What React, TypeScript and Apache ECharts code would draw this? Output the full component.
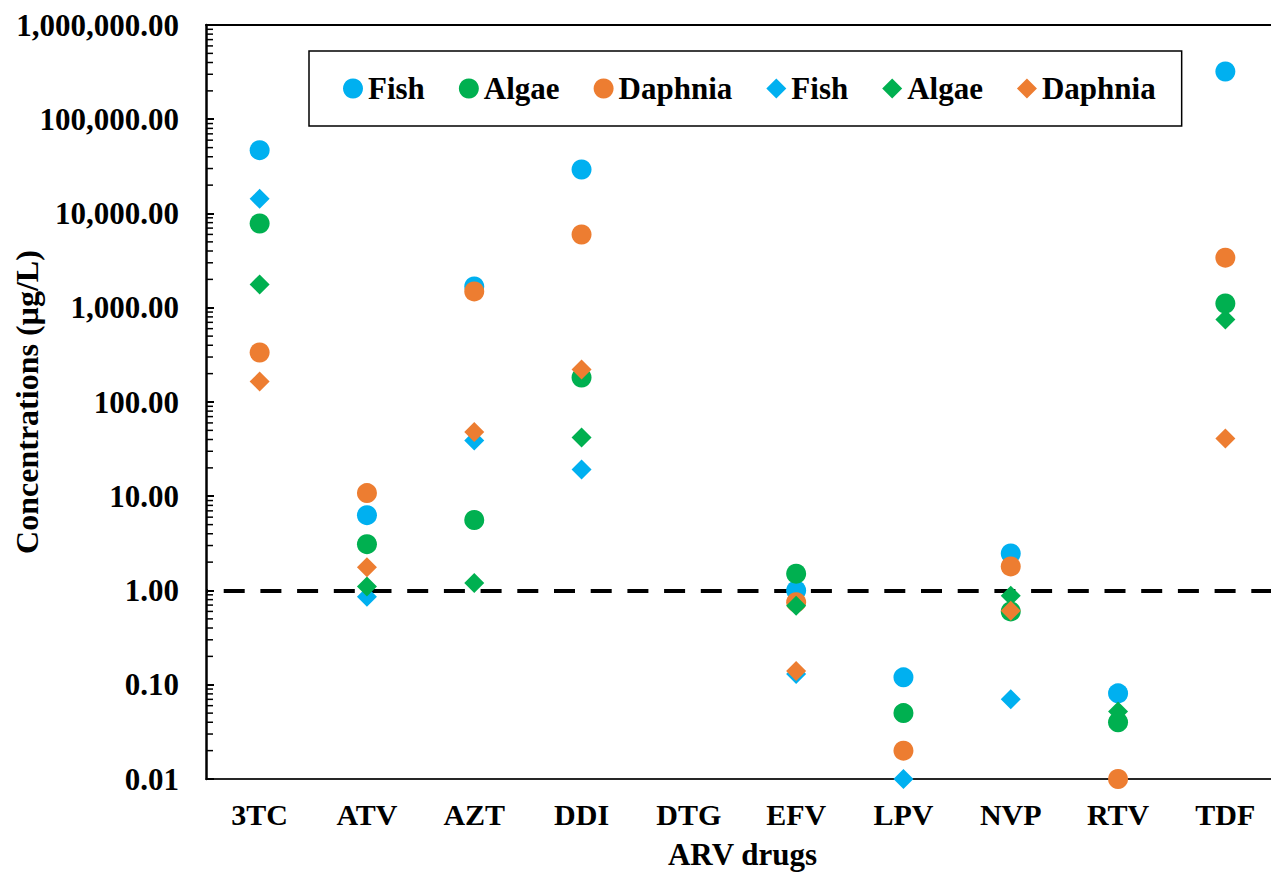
import React, { useEffect, useRef } from "react";
import * as echarts from "echarts";

const categories = ["3TC", "ATV", "AZT", "DDI", "DTG", "EFV", "LPV", "NVP", "RTV", "TDF"];

const fishCircle = [47000, 6.3, 1680, 29300, null, 1.0, 0.12, 2.47, 0.081, 321000];
const algaeCircle = [7830, 3.1, 5.6, 182, null, 1.51, 0.05, 0.6, 0.04, 1110];
const daphniaCircle = [335, 10.8, 1490, 5990, null, 0.75, 0.02, 1.8, 0.01, 3400];
const fishDiamond = [14300, 0.86, 39, 19.2, null, 0.13, 0.01, 0.07, null, null];
const algaeDiamond = [1770, 1.1, 1.2, 42, null, 0.69, null, 0.88, 0.052, 750];
const daphniaDiamond = [165, 1.77, 48, 221, null, 0.14, null, 0.61, null, 41];

const thresholdValue = 1;
const yMin = 0.01;
const yMax = 1000000;

const FISH = "#00B0F0";
const ALGAE = "#00B050";
const DAPHNIA = "#ED7D31";
const FONT = '"Times New Roman", "Liberation Serif", serif';

// log minor tick positions (2..9 per decade)
const minorTicks: number[] = [];
for (let e = -2; e < 6; e++) {
  for (let m = 2; m <= 9; m++) minorTicks.push(m * Math.pow(10, e));
}

const fmt = (v: number) =>
  Number(v.toPrecision(6)).toLocaleString("en-US", {
    minimumFractionDigits: 2,
    maximumFractionDigits: 2,
  });

export default function App() {
  const ref = useRef<HTMLDivElement>(null);
  useEffect(() => {
    if (!ref.current) return;
    const chart = echarts.init(ref.current, undefined, { renderer: "svg" });
    const mk = (name: string, vals: (number | null)[], color: string, symbol: string) => ({
      name,
      type: "scatter",
      symbol,
      symbolSize: 20,
      itemStyle: { color, opacity: 1 },
      data: vals.map((v) => (v == null ? "-" : v)),
      z: 3,
    });
    chart.setOption({
      animation: false,
      textStyle: { fontFamily: FONT },
      grid: {
        left: 206,
        top: 25,
        width: 1073,
        height: 754,
        containLabel: false,
        outerBoundsMode: "none",
      },
      legend: {
        data: ["Fish|c", "Algae|c", "Daphnia|c", "Fish|d", "Algae|d", "Daphnia|d"],
        formatter: (n: string) => n.split("|")[0],
        left: 309,
        top: 51,
        padding: [22, 26, 22, 34],
        borderColor: "#000",
        borderWidth: 1.5,
        backgroundColor: "#fff",
        itemGap: 34,
        itemWidth: 20,
        itemHeight: 20,
        textStyle: { fontFamily: FONT, fontSize: 31, fontWeight: "bold", color: "#000" },
      },
      xAxis: [
        {
          type: "category",
          data: categories,
          position: "bottom",
          axisLine: { lineStyle: { color: "#262626", width: 2 } },
          axisTick: { show: false },
          axisLabel: {
            fontFamily: FONT,
            fontSize: 30,
            fontWeight: "bold",
            color: "#000",
            margin: 20,
          },
          name: "ARV drugs",
          nameLocation: "middle",
          nameGap: 60,
          nameMoveOverlap: false,
          nameTextStyle: { fontFamily: FONT, fontSize: 31, fontWeight: "bold", color: "#000" },
        },
        {
          type: "category",
          data: categories,
          position: "top",
          axisLine: { lineStyle: { color: "#000", width: 2 } },
          axisTick: { show: false },
          axisLabel: { show: false },
        },
      ],
      yAxis: {
        type: "log",
        logBase: 10,
        min: yMin,
        max: yMax,
        interval: 1,
        axisLine: { show: true, lineStyle: { color: "#000", width: 2.5 } },
        axisTick: { show: true, inside: true, length: 8, lineStyle: { color: "#000", width: 2 } },
        splitLine: { show: false },
        axisLabel: {
          fontFamily: FONT,
          fontSize: 31,
          fontWeight: "bold",
          color: "#000",
          margin: 27,
          formatter: (v: number) => fmt(v),
        },
        name: "Concentrations (µg/L)",
        nameLocation: "middle",
        nameGap: 163,
        nameMoveOverlap: false,
        nameTextStyle: { fontFamily: FONT, fontSize: 32, fontWeight: "bold", color: "#000" },
      },
      series: [
        {
          type: "custom",
          name: "minorTicks",
          silent: true,
          z: 1,
          data: minorTicks.map((v) => [0, v]),
          renderItem: (params: any, api: any) => {
            const v = api.value(1);
            const y = api.coord([0, v])[1];
            const x0 = params.coordSys.x;
            return {
              type: "line",
              shape: { x1: x0, y1: y, x2: x0 + 7, y2: y },
              style: { stroke: "#000", lineWidth: 1.5 },
            };
          },
        },
        {
          ...mk("Fish|c", fishCircle, FISH, "circle"),
          markLine: {
            silent: true,
            symbol: ["none", "none"],
            label: { show: false },
            lineStyle: { color: "#000", width: 4, type: [21, 15.7], dashOffset: 18.7 },
            data: [{ yAxis: thresholdValue }],
            z: 2,
          },
        },
        mk("Algae|c", algaeCircle, ALGAE, "circle"),
        mk("Daphnia|c", daphniaCircle, DAPHNIA, "circle"),
        mk("Fish|d", fishDiamond, FISH, "diamond"),
        mk("Algae|d", algaeDiamond, ALGAE, "diamond"),
        mk("Daphnia|d", daphniaDiamond, DAPHNIA, "diamond"),
      ],
    });
    return () => chart.dispose();
  }, []);
  return (
    <div
      ref={ref}
      style={{ position: "absolute", left: 0, top: 0, width: 1271, height: 873, background: "#fff" }}
    />
  );
}
